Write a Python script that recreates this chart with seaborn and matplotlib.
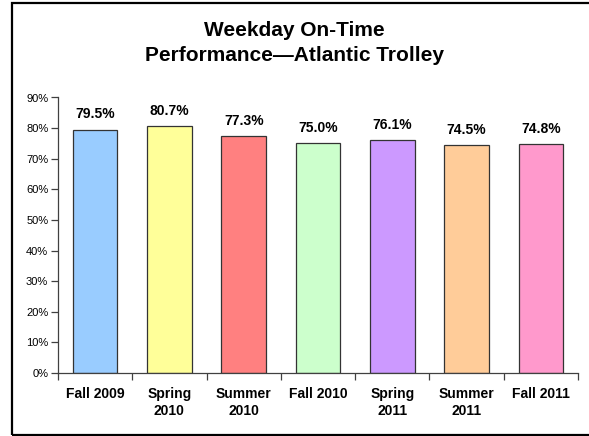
import matplotlib
matplotlib.use("Agg")
import matplotlib.pyplot as plt
import matplotlib.patches as mpatches
from matplotlib.ticker import PercentFormatter
import pandas as pd
import seaborn as sns

# chart data
terms = ["Fall 2009", "Spring\n2010", "Summer\n2010", "Fall 2010",
         "Spring\n2011", "Summer\n2011", "Fall 2011"]
on_time = [79.5, 80.7, 77.3, 75.0, 76.1, 74.5, 74.8]
bar_colors = ["#99CCFF", "#FFFF99", "#FF8080", "#CCFFCC",
              "#CC99FF", "#FFCC99", "#FF99CC"]

df = pd.DataFrame({"term": terms, "pct": on_time})

sns.set_style("white")
plt.rcParams["font.family"] = ["Liberation Sans", "DejaVu Sans"]
plt.rcParams["text.color"] = "black"
plt.rcParams["xtick.color"] = "black"
plt.rcParams["ytick.color"] = "black"

fig = plt.figure(figsize=(5.89, 4.36), dpi=100)
ax = fig.add_axes([58 / 589, 1 - 373 / 436, 520 / 589, 275.5 / 436])

sns.barplot(data=df, x="term", y="pct", hue="term", palette=bar_colors,
            legend=False, width=0.6, edgecolor="#333333", linewidth=0.9,
            saturation=1, ax=ax)

for p, v in zip(ax.patches, on_time):
    ax.annotate(f"{v:.1f}%", (p.get_x() + p.get_width() / 2, p.get_height()),
                xytext=(0, 6), textcoords="offset points", ha="center",
                va="bottom", fontsize=10, fontweight="bold", color="black")

ax.set_ylim(0, 90)
ax.set_xlim(-0.5, 6.5)
ax.set_yticks(range(0, 91, 10))
ax.yaxis.set_major_formatter(PercentFormatter(decimals=0))
ax.set_xticks([i + 0.5 for i in range(-1, 7)], minor=True)
ax.set_xticks(range(7))
ax.set_xticklabels(terms, fontweight="bold", fontsize=10, linespacing=1.3)
ax.tick_params(axis="x", which="major", length=0, pad=10, labelcolor="black")
ax.tick_params(axis="x", which="minor", length=5, width=0.9, color="#404040",
               direction="out", bottom=True)
ax.tick_params(axis="y", length=5, width=0.9, color="#404040",
               direction="out", left=True, labelsize=8, pad=2,
               labelcolor="black")
ax.set_xlabel("")
ax.set_ylabel("")
for s in ["top", "right"]:
    ax.spines[s].set_visible(False)
for s in ["left", "bottom"]:
    ax.spines[s].set_color("#404040")
    ax.spines[s].set_linewidth(0.9)

fig.text(0.5, 1 - 43 / 436, "Weekday On-Time\nPerformance\u2014Atlantic Trolley",
         ha="center", va="center", fontsize=15, fontweight="bold",
         linespacing=1.45, color="black")

# outer frame
frame = mpatches.Rectangle((11.5 / 589, 1.5 / 436), 600 / 589, 431 / 436,
                           transform=fig.transFigure, fill=False,
                           edgecolor="black", linewidth=1.6, clip_on=False)
fig.patches.append(frame)

fig.savefig("out.png", dpi=100)
